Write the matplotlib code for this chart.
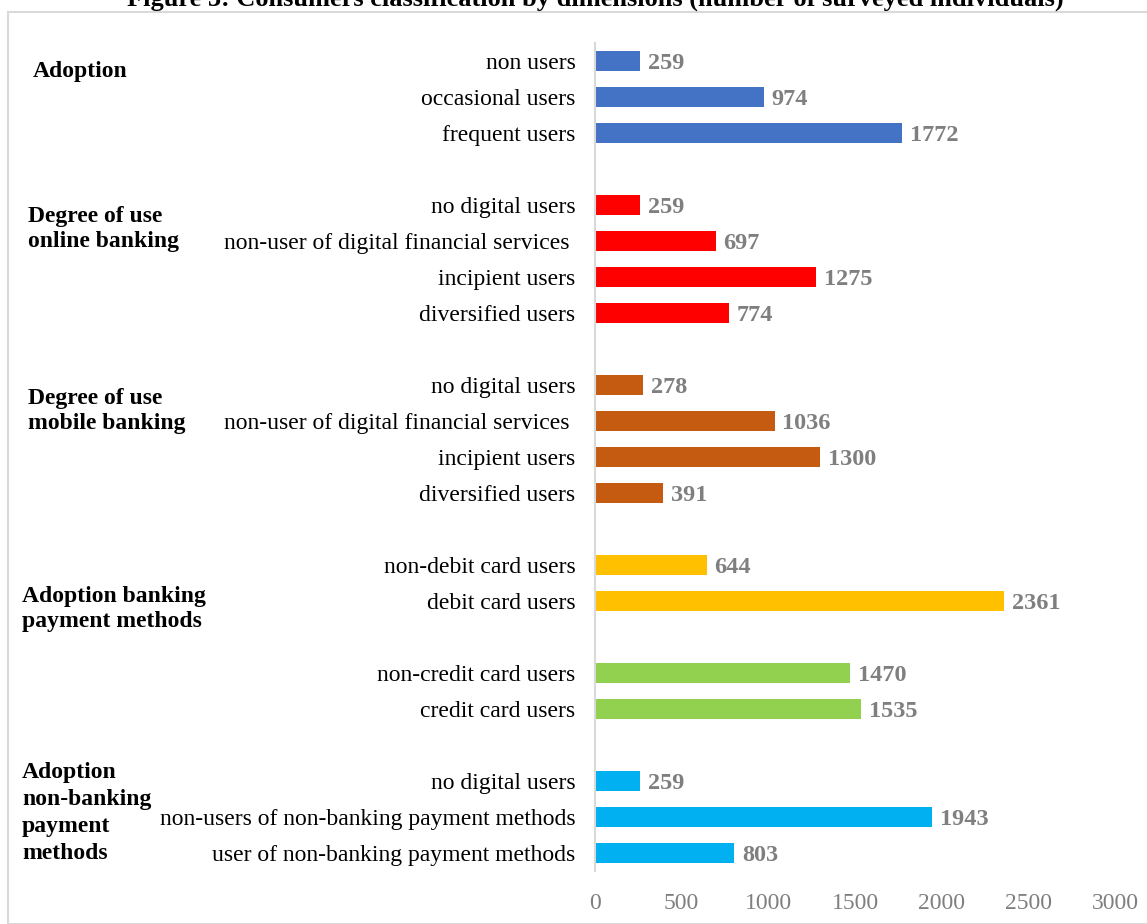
import matplotlib
matplotlib.use("Agg")
import matplotlib.pyplot as plt
from matplotlib.patches import Rectangle

plt.rcParams['font.family'] = ['Liberation Serif', 'DejaVu Serif']

# ---- data ----
categories = [
    "non users", "occasional users", "frequent users", "",
    "no digital users", "non-user of digital financial services ", "incipient users", "diversified users", "",
    "no digital users", "non-user of digital financial services ", "incipient users", "diversified users", "",
    "non-debit card users", "debit card users", "",
    "non-credit card users", "credit card users", "",
    "no digital users", "non-users of non-banking payment methods", "user of non-banking payment methods",
]
values = [
    259, 974, 1772, None,
    259, 697, 1275, 774, None,
    278, 1036, 1300, 391, None,
    644, 2361, None,
    1470, 1535, None,
    259, 1943, 803,
]
group_of_row = [
    0, 0, 0, None,
    1, 1, 1, 1, None,
    2, 2, 2, 2, None,
    3, 3, None,
    4, 4, None,
    5, 5, 5,
]
group_colors = ["#4472C4", "#FF0000", "#C55A11", "#FFC000", "#92D050", "#00B0F0"]
group_labels = ["Adoption", "Degree of use\nonline banking", "Degree of use\nmobile banking",
                "Adoption banking\npayment methods", "Adoption\nnon-banking\npayment\nmethods"]
x_ticks = [0, 500, 1000, 1500, 2000, 2500, 3000]
title = "Figure 3: Consumers classification by dimensions (number of surveyed individuals)"

W, H = 1147, 924
fig = plt.figure(figsize=(W / 100, H / 100), dpi=100)

def fx(px):
    return px / W

def fy(py):
    return 1 - py / H

# frame
fig.patches.append(Rectangle((fx(8), 0), 1.2, fy(12), transform=fig.transFigure,
                             fill=False, edgecolor="#D9D9D9", linewidth=1.5, clip_on=False))

ax = fig.add_axes([fx(595), fy(871), fx(1115) - fx(595), fy(43) - fy(871)])

n = len(categories)
for i, (v, g) in enumerate(zip(values, group_of_row)):
    if v is None:
        continue
    ax.barh(i, v, height=0.53, color=group_colors[g])
    ax.text(v + 45, i, str(v), va="center_baseline", ha="left", fontsize=17.5,
            fontweight="bold", color="#7F7F7F")

ax.set_ylim(n - 0.5, -0.5)
ax.set_xlim(0, 3000)
ax.set_yticks(range(n))
ax.set_yticklabels(categories, fontsize=17, color="black")
ax.set_xticks(x_ticks)
ax.set_xticklabels([str(t) for t in x_ticks], fontsize=17, color="#7F7F7F")
ax.tick_params(axis="y", length=0, pad=14)
ax.tick_params(axis="x", length=0, pad=16)
for s in ["top", "right", "bottom"]:
    ax.spines[s].set_visible(False)
ax.spines["left"].set_color("#D9D9D9")
ax.spines["left"].set_linewidth(1.5)

# group labels
group_pos = [(33, 71, 1.3), (28, 229, 1.3), (28, 411, 1.3), (22, 609, 1.3), (22, 813, 1.37)]
for lab, (px, py, ls) in zip(group_labels, group_pos):
    fig.text(fx(px), fy(py), lab, ha="left", va="center", fontsize=17,
             fontweight="bold", color="black", linespacing=ls)

fig.text(fx(595), fy(6), title, ha="center", va="baseline", fontsize=19,
         fontweight="bold", color="black")

fig.savefig("out.png", dpi=100)
